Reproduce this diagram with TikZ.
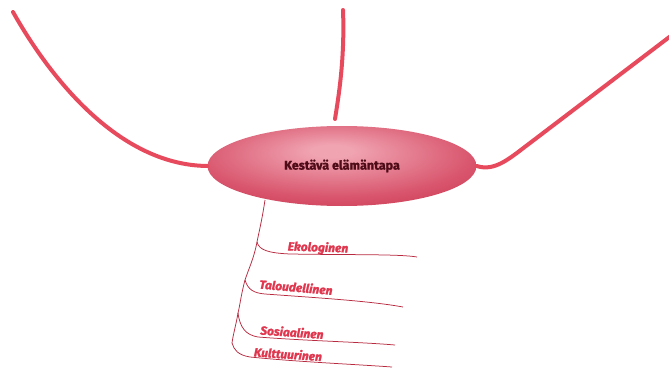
\documentclass[tikz,border=0pt]{standalone}
\usepackage{fontspec}
\setmainfont{Fira Sans}
\newfontfamily\heavyfont{Fira Sans}[FakeBold=1.5]
\usetikzlibrary{shapes.geometric}
\definecolor{branchred}{HTML}{E84A5D}
\definecolor{thinred}{HTML}{B82A40}
\definecolor{labelred}{HTML}{E0364E}
\definecolor{titlecol}{HTML}{4E0C18}
\definecolor{ellin}{HTML}{F0A3B1}
\definecolor{ellmid}{HTML}{D8546C}
\definecolor{ellout}{HTML}{C22A43}
\pgfdeclareradialshading{ellsh}{\pgfpoint{-2bp}{10bp}}{color(0bp)=(ellin); color(4bp)=(ellin); color(26bp)=(ellmid); color(44bp)=(ellout); color(70bp)=(ellout)}
\tikzset{
  mainbranch/.style={draw=branchred, line width=4pt, line cap=round},
  subbranch/.style={draw=thinred, line width=0.75pt},
  central/.style={ellipse, minimum width=269pt, minimum height=80pt, inner sep=0pt, shading=ellsh, font=\heavyfont\fontsize{12.5}{14}\selectfont\bfseries, text=titlecol},
  sublabel/.style={font=\heavyfont\fontsize{12}{13}\selectfont\bfseries\itshape, text=labelred, inner sep=0pt}
}
\begin{document}
\begin{tikzpicture}[x=1pt,y=-1pt]
\useasboundingbox (0,0) rectangle (669,369);
\fill[white] (0,0) rectangle (669,369);
% main branches
\coordinate (tl) at (13,12);
\coordinate (tt) at (343,10);
\coordinate (tb) at (335,119);
\coordinate (tr) at (672,35);
\node[central] (main) at (342,166) {Kestävä elämäntapa};
\draw[mainbranch] (tl) .. controls (40,60) and (110,165) .. (main.west);
\draw[mainbranch] (tt) .. controls (345,60) and (338,100) .. (tb);
\draw[mainbranch] (main.east) .. controls (495,172) and (510,158) .. (530,143) -- (tr);
% sub-tree
\coordinate (t0) at (265,200);
\coordinate (f1) at (257,242);
\coordinate (f2) at (245,280);
\coordinate (f3) at (238,313);
\coordinate (f4) at (232,343);
\coordinate (e1) at (417,257);
\coordinate (e2) at (403,307);
\coordinate (e3) at (395,345);
\coordinate (e4) at (392,367);
\draw[subbranch] (t0) .. controls (262,220) and (259,232) .. (f1)
  .. controls (254,258) and (249,268) .. (f2)
  .. controls (241,295) and (240,305) .. (f3)
  .. controls (236,325) and (233,335) .. (f4);
\draw[subbranch] (f1) .. controls (259,250) and (268,253) .. (290,254) .. controls (350,255) and (400,254) .. (e1);
\draw[subbranch] (f2) .. controls (248,290) and (254,293) .. (265,294) .. controls (320,298) and (370,301) .. (e2);
\draw[subbranch] (f3) .. controls (240,328) and (246,335) .. (258,337) .. controls (310,341) and (360,342) .. (e3);
\draw[subbranch] (f4) .. controls (234,350) and (238,355) .. (250,357) .. controls (300,362) and (350,364) .. (e4);
\node[sublabel, rotate=-2] (l1) at (318,248) {Ekologinen};
\node[sublabel, rotate=-5] (l2) at (296,287) {Taloudellinen};
\node[sublabel, rotate=-4] (l3) at (292,332) {Sosiaalinen};
\node[sublabel, rotate=-4] (l4) at (288,354) {Kulttuurinen};
\end{tikzpicture}
\end{document}
